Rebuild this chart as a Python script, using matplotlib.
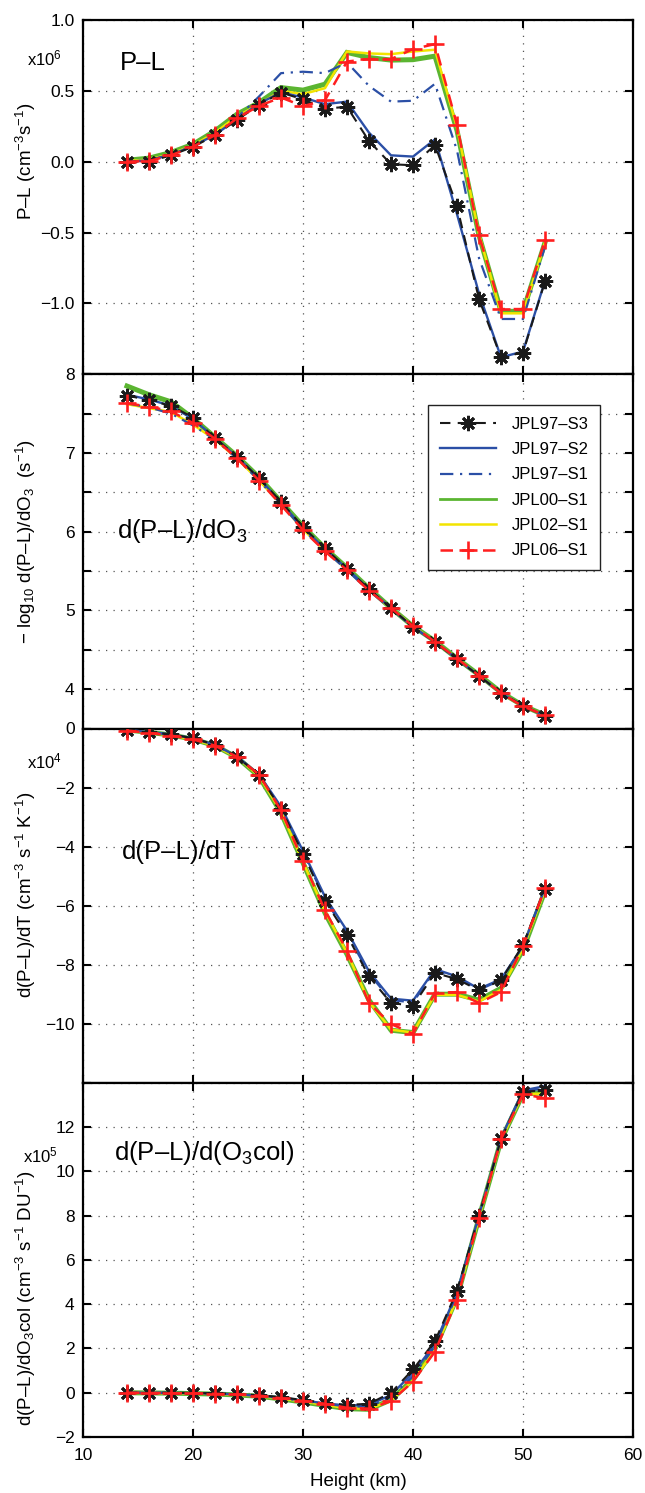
import numpy as np
import matplotlib
matplotlib.use('Agg')
import matplotlib.pyplot as plt
from matplotlib.lines import Line2D

plt.rcParams['font.family'] = ['Liberation Sans', 'DejaVu Sans']
plt.rcParams['mathtext.fontset'] = 'custom'
plt.rcParams['mathtext.rm'] = 'Liberation Sans'
plt.rcParams['mathtext.it'] = 'Liberation Sans:italic'
plt.rcParams['mathtext.bf'] = 'Liberation Sans:bold'
plt.rcParams['mathtext.default'] = 'regular'

# ---------------- data ----------------
heights = [14, 16, 18, 20, 22, 24, 26, 28, 30, 32, 34, 36, 38, 40, 42, 44, 46, 48, 50, 52]
series_names = ["JPL97–S3", "JPL97–S2", "JPL97–S1", "JPL00–S1", "JPL02–S1", "JPL06–S1"]

# P-L (x1e6 cm^-3 s^-1)
pl_97s3 = [0.00, 0.00, 0.045, 0.105, 0.186, 0.295, 0.40, 0.488, 0.44, 0.375, 0.387, 0.146, -0.018, -0.025, 0.118, -0.314, -0.97, -1.38, -1.347, -0.845]
pl_97s2 = [0.00, 0.01, 0.05, 0.11, 0.19, 0.30, 0.41, 0.49, 0.453, 0.406, 0.424, 0.205, 0.045, 0.036, 0.158, -0.37, -0.93, -1.38, -1.34, -0.84]
pl_97s1 = [0.00, 0.01, 0.05, 0.11, 0.19, 0.31, 0.46, 0.625, 0.635, 0.625, 0.70, 0.535, 0.424, 0.43, 0.55, 0.08, -0.68, -1.11, -1.11, -0.60]
pl_00s1 = [0.01, 0.025, 0.065, 0.123, 0.217, 0.335, 0.417, 0.523, 0.505, 0.547, 0.771, 0.735, 0.717, 0.72, 0.745, 0.22, -0.52, -1.056, -1.056, -0.57]
pl_02s1 = [0.005, 0.015, 0.055, 0.115, 0.205, 0.32, 0.405, 0.50, 0.477, 0.519, 0.778, 0.764, 0.759, 0.778, 0.79, 0.24, -0.51, -1.07, -1.07, -0.57]
pl_06s1 = [0.00, 0.005, 0.045, 0.106, 0.187, 0.307, 0.394, 0.453, 0.392, 0.434, 0.707, 0.724, 0.724, 0.795, 0.83, 0.26, -0.52, -1.04, -1.04, -0.555]

# -log10 d(P-L)/dO3 (s^-1)
do3_97s3 = [7.73, 7.67, 7.60, 7.45, 7.19, 6.95, 6.68, 6.38, 6.06, 5.79, 5.53, 5.27, 5.03, 4.79, 4.60, 4.38, 4.17, 3.95, 3.79, 3.66]
do3_97s2 = [7.74, 7.68, 7.60, 7.43, 7.19, 6.95, 6.68, 6.37, 6.05, 5.78, 5.53, 5.27, 5.03, 4.79, 4.60, 4.38, 4.17, 3.95, 3.79, 3.66]
do3_97s1 = [7.63, 7.58, 7.50, 7.35, 7.17, 6.93, 6.65, 6.35, 6.03, 5.76, 5.51, 5.25, 5.02, 4.79, 4.60, 4.39, 4.17, 3.95, 3.78, 3.67]
do3_00s1 = [7.85, 7.74, 7.65, 7.44, 7.20, 6.96, 6.69, 6.38, 6.07, 5.79, 5.54, 5.28, 5.03, 4.80, 4.61, 4.39, 4.18, 3.96, 3.79, 3.67]
do3_02s1 = [7.62, 7.57, 7.52, 7.36, 7.17, 6.93, 6.65, 6.35, 6.03, 5.76, 5.52, 5.26, 5.03, 4.80, 4.60, 4.39, 4.17, 3.95, 3.78, 3.67]
do3_06s1 = [7.63, 7.59, 7.53, 7.38, 7.18, 6.93, 6.65, 6.34, 6.02, 5.75, 5.51, 5.25, 5.03, 4.80, 4.60, 4.39, 4.17, 3.95, 3.78, 3.67]

# d(P-L)/dT (x1e4 cm^-3 s^-1 K^-1)
dt_97s3 = [-0.05, -0.12, -0.20, -0.33, -0.55, -0.95, -1.58, -2.72, -4.24, -5.84, -7.00, -8.40, -9.30, -9.39, -8.28, -8.49, -8.87, -8.53, -7.33, -5.42]
dt_97s2 = [-0.05, -0.12, -0.20, -0.33, -0.55, -0.95, -1.55, -2.65, -4.15, -5.70, -6.85, -8.23, -9.15, -9.22, -8.15, -8.40, -8.82, -8.49, -7.38, -5.40]
dt_97s1 = [-0.05, -0.12, -0.21, -0.34, -0.56, -0.96, -1.57, -2.70, -4.20, -5.78, -6.95, -8.30, -9.20, -9.28, -8.20, -8.45, -8.85, -8.52, -7.36, -5.41]
dt_00s1 = [-0.05, -0.13, -0.22, -0.36, -0.58, -0.98, -1.62, -2.85, -4.55, -6.25, -7.65, -9.20, -10.22, -10.30, -9.00, -9.00, -9.20, -8.80, -7.50, -5.50]
dt_02s1 = [-0.06, -0.14, -0.23, -0.37, -0.59, -0.98, -1.60, -2.82, -4.52, -6.20, -7.60, -9.25, -10.20, -10.30, -9.02, -9.02, -9.25, -8.85, -7.45, -5.48]
dt_06s1 = [-0.07, -0.15, -0.24, -0.37, -0.58, -0.96, -1.56, -2.77, -4.50, -6.16, -7.53, -9.30, -10.01, -10.34, -8.96, -8.93, -9.30, -8.93, -7.38, -5.40]

# d(P-L)/dO3col (x1e5 cm^-3 s^-1 DU^-1)
dcol_97s3 = [0.0, 0.0, 0.0, -0.01, -0.03, -0.06, -0.11, -0.20, -0.33, -0.45, -0.55, -0.50, 0.0, 1.05, 2.33, 4.60, 8.00, 11.45, 13.60, 13.65]
dcol_97s2 = [0.0, 0.0, -0.01, -0.02, -0.04, -0.07, -0.13, -0.22, -0.35, -0.48, -0.58, -0.55, -0.10, 0.90, 2.20, 4.55, 8.00, 11.50, 13.65, 13.85]
dcol_97s1 = [0.0, 0.0, -0.01, -0.02, -0.04, -0.08, -0.14, -0.24, -0.37, -0.50, -0.62, -0.62, -0.20, 0.75, 2.10, 4.45, 7.95, 11.45, 13.60, 13.75]
dcol_00s1 = [0.0, -0.01, -0.02, -0.04, -0.06, -0.10, -0.16, -0.28, -0.42, -0.57, -0.72, -0.75, -0.32, 0.60, 2.00, 4.30, 7.90, 11.40, 13.50, 13.55]
dcol_02s1 = [0.0, -0.01, -0.02, -0.03, -0.05, -0.09, -0.15, -0.26, -0.40, -0.55, -0.70, -0.73, -0.35, 0.55, 1.95, 4.25, 7.90, 11.40, 13.50, 13.50]
dcol_06s1 = [0.0, -0.01, -0.02, -0.03, -0.05, -0.08, -0.13, -0.25, -0.37, -0.50, -0.68, -0.72, -0.38, 0.50, 1.86, 4.20, 7.88, 11.45, 13.48, 13.30]

panel_data = [
    [pl_97s3, pl_97s2, pl_97s1, pl_00s1, pl_02s1, pl_06s1],
    [do3_97s3, do3_97s2, do3_97s1, do3_00s1, do3_02s1, do3_06s1],
    [dt_97s3, dt_97s2, dt_97s1, dt_00s1, dt_02s1, dt_06s1],
    [dcol_97s3, dcol_97s2, dcol_97s1, dcol_00s1, dcol_02s1, dcol_06s1],
]

# ---------------- styles ----------------
C_BLACK = '#1a1a1a'
C_BLUE = '#2b4fa6'
C_GREEN = '#5bb531'
C_YELLOW = '#f2e400'
C_RED = '#ff1f1f'

styles = [
    dict(color=C_BLACK, lw=1.5, ls=(0, (5, 3.5)), marker=(8, 2, 0), ms=11, mew=2.0, zorder=6),
    dict(color=C_BLUE, lw=1.7, ls='-', zorder=5),
    dict(color=C_BLUE, lw=1.6, ls=(0, (6, 3, 1, 3)), zorder=4),
    dict(color=C_GREEN, lw=3.6, ls='-', zorder=2, solid_joinstyle='miter'),
    dict(color=C_YELLOW, lw=1.8, ls='-', zorder=3),
    dict(color=C_RED, lw=1.8, ls=(0, (5, 3.5)), marker='+', ms=12.5, mew=1.9, zorder=7),
]

W, H = 645, 1493
fig = plt.figure(figsize=(W / 100, H / 100), dpi=100)


def fx(x):
    return x / W


def fy(y):
    return 1 - y / H


left, right = 83, 633
top0, bot = 20, 1437
ph = (bot - top0) / 4.0

ylims = [(-1.5, 1.0), (3.5, 8.0), (-12, 0), (-2, 14)]
yticks = [np.arange(-1.5, 1.01, 0.5), np.arange(3.5, 8.01, 0.5),
          np.arange(-12, 0.1, 2), np.arange(-2, 14.1, 2)]
ytlabels = [
    ['', '−1.0', '−0.5', '0.0', '0.5', '1.0'],
    ['', '4', '', '5', '', '6', '', '7', '', '8'],
    ['', '−10', '−8', '−6', '−4', '−2', '0'],
    ['−2', '0', '2', '4', '6', '8', '10', '12', ''],
]

axes = []
for i in range(4):
    t = top0 + i * ph
    ax = fig.add_axes([fx(left), fy(t + ph), (right - left) / W, ph / H])
    axes.append(ax)
    for j, (vals, st) in enumerate(zip(panel_data[i], styles)):
        ax.plot(heights, vals, **st)
    ax.set_xlim(10, 60)
    ax.set_ylim(*ylims[i])
    ax.set_xticks([10, 20, 30, 40, 50, 60])
    ax.set_yticks(yticks[i])
    ax.set_yticklabels(ytlabels[i])
    ax.grid(True, color='#555555', lw=0.9, ls=(0, (1, 5)))
    ax.tick_params(direction='in', length=5.5, width=1.5, top=True, right=True,
                   labelsize=12.5, pad=6)
    for sp in ax.spines.values():
        sp.set_linewidth(1.6)
    if i < 3:
        ax.set_xticklabels([])
    else:
        ax.tick_params(axis='x', pad=8)
        ax.set_xlabel('Height (km)', fontsize=13.5, labelpad=7)

# panel titles
fig.text(fx(120), fy(70), 'P–L', fontsize=18.5, ha='left', va='baseline')
fig.text(fx(117), fy(538), 'd(P–L)/dO$_3$', fontsize=18.5, ha='left', va='baseline')
fig.text(fx(122), fy(859), 'd(P–L)/dT', fontsize=18.5, ha='left', va='baseline')
fig.text(fx(114), fy(1160), 'd(P–L)/d(O$_3$col)', fontsize=18.5, ha='left', va='baseline')

# offset (multiplier) texts
fig.text(fx(27), fy(65), 'x10$^6$', fontsize=12, ha='left', va='baseline')
fig.text(fx(27), fy(768), 'x10$^4$', fontsize=12, ha='left', va='baseline')
fig.text(fx(23), fy(1162), 'x10$^5$', fontsize=12, ha='left', va='baseline')

# y labels
fig.text(fx(26), fy(161), 'P–L (cm$^{-3}$s$^{-1}$)', rotation=90, fontsize=13.5,
         ha='center', va='center')
fig.text(fx(26), fy(542), '− log$_{10}$ d(P–L)/dO$_3$  (s$^{-1}$)', rotation=90, fontsize=13.5,
         ha='center', va='center')
fig.text(fx(26), fy(895), 'd(P–L)/dT (cm$^{-3}$ s$^{-1}$ K$^{-1}$)', rotation=90, fontsize=13.5,
         ha='center', va='center')
fig.text(fx(26), fy(1298), 'd(P–L)/dO$_3$col (cm$^{-3}$ s$^{-1}$ DU$^{-1}$)', rotation=90,
         fontsize=13.5, ha='center', va='center')

# legend (proxy handles)
handles = []
for st in styles:
    s = dict(st)
    s.pop('zorder', None)
    s.pop('solid_joinstyle', None)
    if s['lw'] > 2.5:
        s['lw'] = 2.0
    handles.append(Line2D([], [], **s))
leg = axes[1].legend(handles, series_names, loc='upper left',
                     bbox_to_anchor=(fx(428), fy(405)), bbox_transform=fig.transFigure,
                     borderaxespad=0, fontsize=12, handlelength=3.4, handletextpad=0.9,
                     labelspacing=0.62, borderpad=0.7, fancybox=False, framealpha=1,
                     edgecolor='#222222', numpoints=1)
leg.get_frame().set_linewidth(1.0)
leg.set_zorder(20)

fig.savefig('out.png', dpi=100)
